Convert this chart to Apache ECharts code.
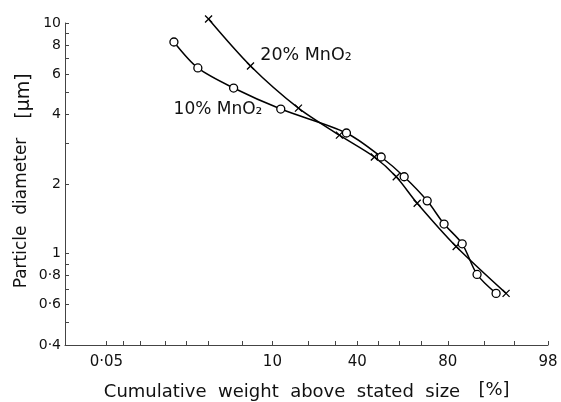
<!DOCTYPE html>
<html lang="en">
<head>
<meta charset="UTF-8" />
<title>Particle diameter vs cumulative weight</title>
<script src="https://cdn.jsdelivr.net/npm/echarts@6/dist/echarts.min.js"></script>
<style>
  html, body { margin: 0; padding: 0; background: #fff; }
  #main { width: 561px; height: 402px; }
</style>
</head>
<body>
<div id="main"></div>
<script>
// 10% MnO2 : cumulative weight above size (%) / particle diameter (um)
let pct10 = [0.67, 1.45, 4.0, 11.9, 35, 51.4, 62.3, 72.3, 78.7, 84.5, 88.4, 92.3];
let dia10 = [8.27, 6.38, 5.22, 4.23, 3.33, 2.62, 2.15, 1.69, 1.34, 1.10, 0.81, 0.67];
// 20% MnO2
let pct20 = [2.0, 6.1, 16.7, 31.9, 48.1, 58.6, 68.1, 82.7, 93.9];
let dia20 = [10.4, 6.51, 4.27, 3.26, 2.62, 2.15, 1.65, 1.07, 0.67];

// probability axis ticks / labels (%)
let xTicks = [0.05, 0.1, 0.2, 0.5, 1, 2, 5, 10, 20, 30, 40, 50, 60, 70, 80, 90, 95, 98];
let xLabels = [0.05, 10, 40, 80, 98];
// log axis ticks / labels (um)
let yTicks = [0.4, 0.5, 0.6, 0.7, 0.8, 0.9, 1, 2, 3, 4, 5, 6, 7, 8, 9, 10];
let yLabels = [0.4, 0.6, 0.8, 1, 2, 4, 6, 8, 10];

// inverse normal cdf (Acklam) -> probability paper scale
function probit(p) {
    const a = [-3.969683028665376e+01, 2.209460984245205e+02, -2.759285104469687e+02, 1.383577518672690e+02, -3.066479806614716e+01, 2.506628277459239e+00];
    const b = [-5.447609879822406e+01, 1.615858368580409e+02, -1.556989798598866e+02, 6.680131188771972e+01, -1.328068155288572e+01];
    const c = [-7.784894002430293e-03, -3.223964580411365e-01, -2.400758277161838e+00, -2.549732539343734e+00, 4.374664141464968e+00, 2.938163982698783e+00];
    const d = [7.784695709041462e-03, 3.224671290700398e-01, 2.445134137142996e+00, 3.754408661907416e+00];
    let q, r;
    if (p < 0.02425) {
        q = Math.sqrt(-2 * Math.log(p));
        return (((((c[0]*q+c[1])*q+c[2])*q+c[3])*q+c[4])*q+c[5]) / ((((d[0]*q+d[1])*q+d[2])*q+d[3])*q+1);
    }
    if (p <= 1 - 0.02425) {
        q = p - 0.5; r = q * q;
        return (((((a[0]*r+a[1])*r+a[2])*r+a[3])*r+a[4])*r+a[5])*q / (((((b[0]*r+b[1])*r+b[2])*r+b[3])*r+b[4])*r+1);
    }
    q = Math.sqrt(-2 * Math.log(1 - p));
    return -(((((c[0]*q+c[1])*q+c[2])*q+c[3])*q+c[4])*q+c[5]) / ((((d[0]*q+d[1])*q+d[2])*q+d[3])*q+1);
}
let px = v => probit(v / 100);
let py = v => Math.log10(v);

function fmtNum(v) {
    return String(v).replace('.', '\u00b7');
}

let font = 'DejaVu Sans';
let ink = '#111';

let myChart = echarts.init(document.getElementById('main'), null, { renderer: 'canvas' });

myChart.setOption({
    animation: false,
    backgroundColor: '#fff',
    grid: { left: 65, right: 13, top: 23, bottom: 57 },
    xAxis: {
        type: 'value',
        min: px(0.0075),
        max: px(98),
        splitLine: { show: false },
        axisLine: { onZero: false, lineStyle: { color: '#444', width: 1 } },
        axisTick: {
            inside: true, length: 4,
            customValues: xTicks.map(px),
            lineStyle: { color: '#444' }
        },
        axisLabel: {
            customValues: xLabels.map(px),
            margin: 10,
            color: ink, fontFamily: font, fontSize: 15,
            formatter: function (val) {
                let best = xLabels[0];
                xLabels.forEach(l => { if (Math.abs(px(l) - val) < Math.abs(px(best) - val)) best = l; });
                return fmtNum(best);
            }
        }
    },
    yAxis: {
        type: 'value',
        min: py(0.4),
        max: py(10),
        splitLine: { show: false },
        axisLine: { onZero: false, lineStyle: { color: '#444', width: 1 } },
        axisTick: {
            inside: true, length: 4,
            customValues: yTicks.map(py),
            lineStyle: { color: '#444' }
        },
        axisLabel: {
            customValues: yLabels.map(py),
            margin: 4,
            color: ink, fontFamily: font, fontSize: 14,
            formatter: function (val) {
                return fmtNum(Math.round(Math.pow(10, val) * 10) / 10);
            }
        }
    },
    graphic: [
        {
            type: 'text', x: 22, y: 213, rotation: Math.PI / 2,
            style: { text: 'Particle  diameter', fill: ink, font: '17px "DejaVu Sans"', align: 'center', verticalAlign: 'middle' }
        },
        {
            type: 'text', x: 24, y: 96, rotation: Math.PI / 2,
            style: { text: '[\u03bcm]', fill: ink, font: '19px "DejaVu Sans"', align: 'center', verticalAlign: 'middle' }
        },
        {
            type: 'text', x: 282, y: 392,
            style: { text: 'Cumulative  weight  above  stated  size', fill: ink, font: '18px "DejaVu Sans"', align: 'center', verticalAlign: 'middle' }
        },
        {
            type: 'text', x: 494, y: 390,
            style: { text: '[%]', fill: ink, font: '18px "DejaVu Sans"', align: 'center', verticalAlign: 'middle' }
        },
        {
            type: 'text', x: 306, y: 55,
            style: { text: '20% MnO\u2082', fill: ink, font: '17.5px "DejaVu Sans"', align: 'center', verticalAlign: 'middle' }
        },
        {
            type: 'text', x: 218, y: 110,
            style: { text: '10% MnO\u2082', fill: ink, font: '17px "DejaVu Sans"', align: 'center', verticalAlign: 'middle' }
        }
    ],
    series: [
        {
            name: '20% MnO2',
            type: 'line',
            smooth: 0.3,
            clip: false,
            data: pct20.map((p, i) => [px(p), py(dia20[i])]),
            symbol: 'path://M0 0L10 10M10 0L0 10',
            symbolSize: 7,
            lineStyle: { color: '#000', width: 1.5 },
            itemStyle: { color: 'none', borderColor: '#000', borderWidth: 1.3 }
        },
        {
            name: '10% MnO2',
            type: 'line',
            smooth: 0.3,
            clip: false,
            data: pct10.map((p, i) => [px(p), py(dia10[i])]),
            symbol: 'circle',
            symbolSize: 8,
            lineStyle: { color: '#000', width: 1.5 },
            itemStyle: { color: '#fff', borderColor: '#000', borderWidth: 1.3 }
        }
    ]
});
</script>
</body>
</html>
